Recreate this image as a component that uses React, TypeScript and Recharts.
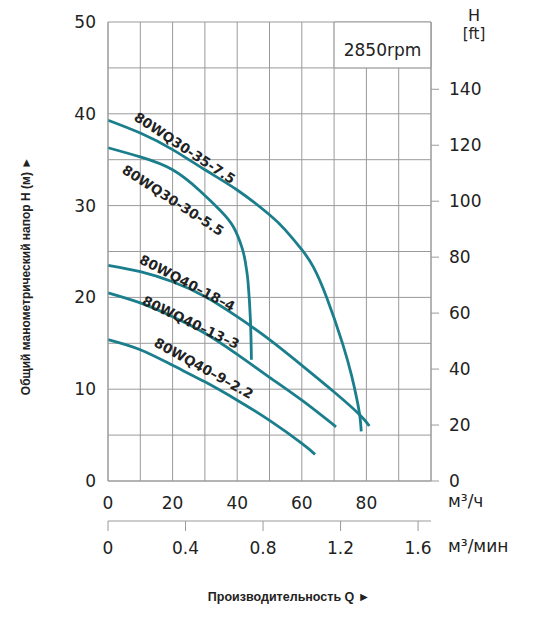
import React from 'react';
import { LineChart, Line, XAxis, YAxis, CartesianGrid, ReferenceArea, ReferenceDot } from 'recharts';

const CURVE_COLOR = '#1b7e8c';
const GRID_COLOR = '#9a9a9a';
const TEXT_COLOR = '#222';
const TICK_FONT = '"DejaVu Sans", sans-serif';
const TITLE_FONT = '"Liberation Sans", Arial, sans-serif';

// flow Q (m³/h) and head H (m)
const flowA = [0, 10, 20, 30, 40, 50, 55, 60, 63.6, 67.7, 72.6, 75.4, 77.0, 78.0, 78.4];
const headA = [39.3, 37.9, 36.1, 33.9, 31.7, 29.0, 27.3, 25.2, 23.3, 20.0, 15.0, 11.5, 9.0, 7.0, 5.4];

const flowB = [0, 10, 20, 28.5, 34.7, 38.8, 41.4, 42.4, 42.9, 43.4, 44.1, 44.4];
const headB = [36.3, 35.3, 33.9, 31.6, 29.5, 27.7, 25.5, 24.1, 23.0, 21.5, 17.5, 13.2];

const flowC = [0, 10, 20, 30, 40, 50, 60, 70, 78, 80.9];
const headC = [23.5, 22.8, 21.7, 20.1, 17.9, 15.4, 12.6, 9.7, 7.2, 6.0];

const flowD = [0, 10, 20, 30, 40, 50, 60, 70.6];
const headD = [20.5, 19.4, 17.9, 16.1, 13.8, 11.3, 8.8, 5.9];

const flowE = [0, 10, 20, 30, 40, 50, 60, 64.1];
const headE = [15.4, 14.3, 12.6, 10.8, 8.8, 6.6, 4.1, 2.9];

const curveFlows = [flowA, flowB, flowC, flowD, flowE];
const curveHeads = [headA, headB, headC, headD, headE];

// curve names and where they sit on the chart
const curveNames = ['80WQ30-35-7.5', '80WQ30-30-5.5', '80WQ40–18–4', '80WQ40–13–3', '80WQ40–9–2.2'];
const labelFlow = [23.8, 20.2, 24.6, 25.7, 29.7];
const labelHead = [36.3, 30.6, 21.6, 17.3, 12.3];
const labelAngle = [33.5, 33, 27.6, 25.5, 29];

const flowTicks = [0, 10, 20, 30, 40, 50, 60, 70, 80, 90, 100];
const flowMinTicks = [0, 0.4, 0.8, 1.2, 1.6];
const flowMinSpan = [0, 100 / 60];
const headTicks = [0, 5, 10, 15, 20, 25, 30, 35, 40, 45, 50];
const feetTicks = [0, 20, 40, 60, 80, 100, 120, 140];

const toPoints = (q: number[], h: number[]) => q.map((v, i) => ({ q: v, h: h[i] }));

const curveLabel = (text: string, angle: number) => (props: any) => (
  <text
    x={props.cx}
    y={props.cy}
    transform={`rotate(${angle} ${props.cx} ${props.cy})`}
    textAnchor="middle"
    dominantBaseline="central"
    fontFamily={TICK_FONT}
    fontWeight="bold"
    fontSize={13.5}
    fill={TEXT_COLOR}
  >
    {text}
  </text>
);

export default function App() {
  const tickStyle = { fontSize: 17, fill: TEXT_COLOR, fontFamily: TICK_FONT };
  return (
    <div style={{ position: 'absolute', left: 0, top: 0, width: 538, height: 618, background: '#fff' }}>
      <LineChart width={538} height={618} margin={{ top: 22, right: 34, bottom: 47, left: 68 }}>
        <CartesianGrid stroke={GRID_COLOR} strokeWidth={1} />
        <XAxis
          dataKey="q"
          type="number"
          domain={[0, 100]}
          ticks={flowTicks}
          interval={0}
          tickFormatter={(v: number) => (v % 20 === 0 && v < 100 ? String(v) : '')}
          height={40}
          axisLine={{ stroke: GRID_COLOR }}
          tickLine={false}
          tickSize={0}
          tickMargin={16}
          tick={tickStyle}
          label={{ value: 'м³/ч', position: 'right', offset: 17, fill: TEXT_COLOR, fontSize: 17, fontFamily: TICK_FONT }}
        />
        <XAxis
          xAxisId="min"
          dataKey="q"
          type="number"
          domain={[0, 100 / 60]}
          allowDataOverflow
          ticks={flowMinTicks}
          interval={0}
          height={50}
          axisLine={{ stroke: GRID_COLOR }}
          tickLine={{ stroke: GRID_COLOR }}
          tickSize={10}
          tickMargin={11}
          tick={tickStyle}
          label={{ value: 'м³/мин', position: 'right', offset: 17, fill: TEXT_COLOR, fontSize: 17, fontFamily: TICK_FONT }}
        />
        <YAxis
          type="number"
          domain={[0, 50]}
          ticks={headTicks}
          interval={0}
          tickFormatter={(v: number) => (v % 10 === 0 ? String(v) : '')}
          width={40}
          axisLine={{ stroke: GRID_COLOR }}
          tickLine={false}
          tickSize={0}
          tickMargin={12}
          tick={tickStyle}
        />
        <YAxis yAxisId="gap" orientation="right" width={13} tick={false} axisLine={false} tickLine={false} domain={[0, 1]} />
        <YAxis
          yAxisId="ft"
          orientation="right"
          type="number"
          domain={[0, 50 / 0.3048]}
          allowDataOverflow
          ticks={feetTicks}
          interval={0}
          width={60}
          axisLine={{ stroke: GRID_COLOR }}
          tickLine={{ stroke: GRID_COLOR }}
          tickSize={8}
          tickMargin={10}
          tick={tickStyle}
        />
        <ReferenceArea
          x1={70}
          x2={100}
          y1={45}
          y2={50}
          fill="#fff"
          fillOpacity={1}
          stroke={GRID_COLOR}
          label={{ value: '2850rpm', position: 'insideBottom', offset: 12, fill: TEXT_COLOR, fontSize: 17, fontFamily: TICK_FONT }}
        />
        {/* invisible series so the m³/min axis gets its scale */}
        <Line
          xAxisId="min"
          data={toPoints(flowMinSpan, [0, 0])}
          dataKey="h"
          stroke="none"
          dot={false}
          activeDot={false}
          legendType="none"
          isAnimationActive={false}
        />
        {curveFlows.map((q, i) => (
          <Line
            key={curveNames[i]}
            data={toPoints(q, curveHeads[i])}
            dataKey="h"
            type="natural"
            stroke={CURVE_COLOR}
            strokeWidth={2.8}
            dot={false}
            activeDot={false}
            isAnimationActive={false}
          />
        ))}
        {curveNames.map((name, i) => (
          <ReferenceDot
            key={'lbl-' + name}
            x={labelFlow[i]}
            y={labelHead[i]}
            r={0}
            shape={curveLabel(name, labelAngle[i])}
          />
        ))}
      </LineChart>
      <svg width={538} height={618} style={{ position: 'absolute', left: 0, top: 0, pointerEvents: 'none' }}>
        <text x={474} y={21} textAnchor="middle" fontSize={16} fontFamily={TICK_FONT} fill={TEXT_COLOR}>H</text>
        <text x={474} y={39} textAnchor="middle" fontSize={15} fontFamily={TICK_FONT} fill={TEXT_COLOR}>[ft]</text>
        <text
          x={26}
          y={276}
          transform="rotate(-90 26 276)"
          textAnchor="middle"
          dominantBaseline="central"
          fontSize={12}
          fontWeight="bold"
          fontFamily={TITLE_FONT}
          fill={TEXT_COLOR}
        >
          Общий манометрический напор H (м) ►
        </text>
        <text x={289} y={601} textAnchor="middle" fontSize={12.5} fontWeight="bold" fontFamily={TITLE_FONT} fill={TEXT_COLOR}>
          Производительность Q ►
        </text>
      </svg>
    </div>
  );
}
